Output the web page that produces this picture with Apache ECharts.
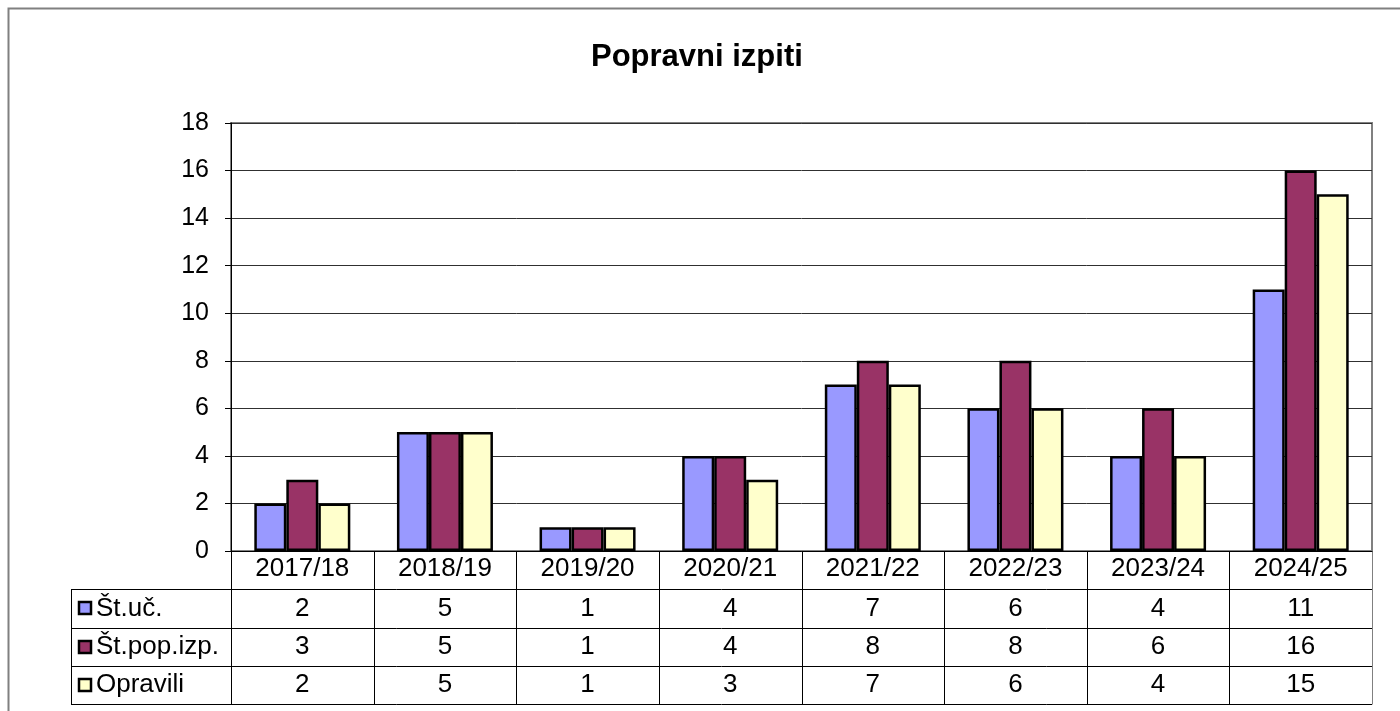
<!DOCTYPE html>
<html>
<head>
<meta charset="utf-8">
<script src="https://cdn.jsdelivr.net/npm/echarts@6/dist/echarts.min.js"></script>
<style>
  html, body { margin: 0; padding: 0; background: #fff; }
  #chart { width: 1400px; height: 711px; }
</style>
</head>
<body>
<div id="chart"></div>
<script>
const years = ["2017/18", "2018/19", "2019/20", "2020/21", "2021/22", "2022/23", "2023/24", "2024/25"];
const stUc = [2, 5, 1, 4, 7, 6, 4, 11];
const stPopIzp = [3, 5, 1, 4, 8, 8, 6, 16];
const opravili = [2, 5, 1, 3, 7, 6, 4, 15];
const seriesNames = ["Št.uč.", "Št.pop.izp.", "Opravili"];
const colors = ["#9999FF", "#993366", "#FFFFCC"];

const font = "Liberation Sans, Arial, sans-serif";
const chart = echarts.init(document.getElementById("chart"));

const seriesData = [stUc, stPopIzp, opravili];

chart.setOption({
  animation: false,
  title: {
    text: "Popravni izpiti",
    left: 586,
    top: 37,
    textStyle: { fontFamily: font, fontSize: 31, fontWeight: "bold", color: "#000" }
  },
  grid: {
    left: 231, right: 28, top: 123, bottom: 160,
    show: true, borderColor: "#808080", borderWidth: 2, backgroundColor: "#fff"
  },
  xAxis: {
    type: "category",
    data: years,
    axisLine: { lineStyle: { color: "#000", width: 1 } },
    axisTick: { show: false },
    axisLabel: { show: true, color: "#000", fontFamily: font, fontSize: 26, margin: 5 }
  },
  yAxis: {
    type: "value",
    min: 0, max: 18, interval: 2,
    axisLine: { show: true, lineStyle: { color: "#000", width: 1 } },
    axisTick: { show: true, length: 6, lineStyle: { color: "#000" } },
    axisLabel: { color: "#000", fontFamily: font, fontSize: 25, margin: 22 },
    splitLine: { lineStyle: { color: "#303030", width: 1 } }
  },
  series: seriesData.map((d, i) => ({
    name: seriesNames[i],
    type: "bar",
    data: d,
    barWidth: 32,
    barGap: "0%",
    itemStyle: { color: colors[i], borderColor: "#000", borderWidth: 2.5 }
  }))
});

// data table under the plot, positioned from the chart's own scales
function drawTable() {
  const x0 = chart.convertToPixel({ xAxisIndex: 0 }, 0);
  const x1 = chart.convertToPixel({ xAxisIndex: 0 }, 1);
  const cw = x1 - x0;
  const left = Math.round(x0 - cw / 2);
  const right = Math.round(left + cw * years.length);
  const axisY = Math.round(chart.convertToPixel({ yAxisIndex: 0 }, 0));
  const rowH = 38.3;
  const tableLeft = 71;
  const els = [];
  const line = (xa, ya, xb, yb, c) => els.push({
    type: "line", silent: true,
    shape: { x1: xa, y1: ya, x2: xb, y2: yb },
    style: { stroke: c || "#000", lineWidth: 1 }
  });
  // outer frame
  els.push({ type: "rect", silent: true, shape: { x: 8.5, y: 8.5, width: 1420, height: 760 },
    style: { fill: null, stroke: "#808080", lineWidth: 2 } });
  // horizontal rules
  for (let r = 1; r <= 4; r++) {
    const y = Math.round(axisY + rowH * r) + 0.5;
    line(tableLeft, y, right, y);
  }
  // vertical rules
  const bottom = Math.round(axisY + rowH * 4) + 0.5;
  line(tableLeft + 0.5, Math.round(axisY + rowH) + 0.5, tableLeft + 0.5, bottom);
  for (let k = 0; k <= years.length; k++) {
    const x = Math.round(left + cw * k) + 0.5;
    line(x, axisY, x, bottom, k === years.length ? "#808080" : "#000");
  }
  // value cells
  seriesData.forEach((d, i) => {
    const cy = axisY + rowH * (i + 1.5);
    d.forEach((v, j) => {
      els.push({ type: "text", silent: true, x: chart.convertToPixel({ xAxisIndex: 0 }, j), y: cy,
        style: { text: String(v), font: "26px " + font, fill: "#000", align: "center", verticalAlign: "middle" } });
    });
    els.push({ type: "rect", silent: true, shape: { x: 79, y: Math.round(cy) - 6, width: 12, height: 12 },
      style: { fill: colors[i], stroke: "#000", lineWidth: 2.5 } });
    els.push({ type: "text", silent: true, x: 96, y: cy,
      style: { text: seriesNames[i], font: "26px " + font, fill: "#000", align: "left", verticalAlign: "middle" } });
  });
  chart.setOption({ graphic: { elements: els } });
}
drawTable();
</script>
</body>
</html>
